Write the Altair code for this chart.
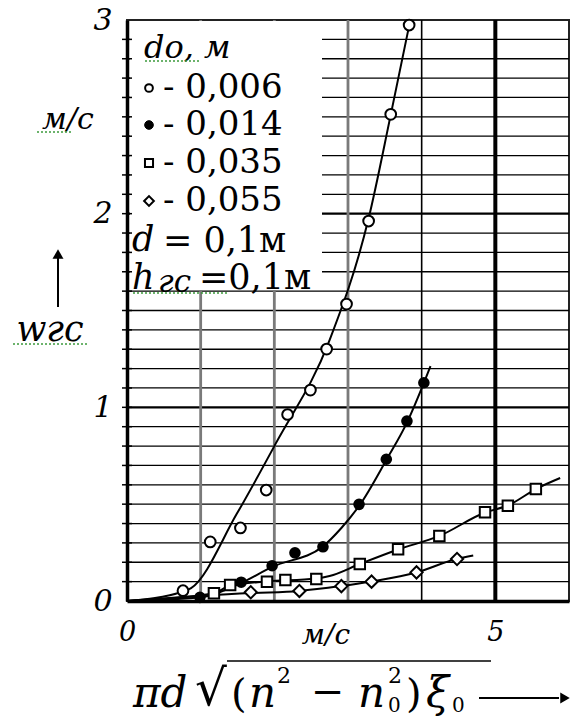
import altair as alt
import pandas as pd

# ---------------- data ----------------
d0_labels = ["0,006", "0,014", "0,035", "0,055"]

# measured points
pts_x_006 = [0.76, 1.13, 1.54, 1.89, 2.18, 2.49, 2.71, 2.98, 3.28, 3.58, 3.83]
pts_y_006 = [0.053, 0.305, 0.377, 0.573, 0.963, 1.089, 1.301, 1.533, 1.962, 2.513, 2.974]

pts_x_014 = [0.99, 1.55, 1.97, 2.28, 2.66, 3.15, 3.52, 3.80, 4.03]
pts_y_014 = [0.019, 0.097, 0.182, 0.249, 0.280, 0.499, 0.732, 0.929, 1.127]

pts_x_035 = [1.18, 1.40, 1.90, 2.15, 2.57, 3.16, 3.68, 4.24, 4.86, 5.17, 5.55]
pts_y_035 = [0.040, 0.083, 0.100, 0.108, 0.114, 0.191, 0.267, 0.336, 0.458, 0.492, 0.578]

pts_x_055 = [1.68, 2.34, 2.91, 3.32, 3.93, 4.48]
pts_y_055 = [0.045, 0.052, 0.077, 0.100, 0.148, 0.217]

# fitted curves
crv_x_006 = [0, 0.76, 0.87, 1.49, 2.02, 2.75, 3.28, 3.58, 3.84]
crv_y_006 = [0, 0.049, 0.067, 0.450, 0.814, 1.347, 1.976, 2.510, 2.989]

crv_x_014 = [0, 0.98, 1.55, 1.97, 2.66, 2.91, 3.16, 3.52, 3.81, 4.03, 4.12]
crv_y_014 = [0, 0.018, 0.093, 0.176, 0.282, 0.377, 0.496, 0.728, 0.929, 1.126, 1.213]

crv_x_035 = [0, 1.18, 1.40, 1.90, 2.56, 2.75, 3.16, 3.68, 4.24, 4.86, 5.17, 5.55, 5.88]
crv_y_035 = [0, 0.040, 0.080, 0.101, 0.116, 0.129, 0.191, 0.266, 0.336, 0.457, 0.493, 0.578, 0.635]

crv_x_055 = [0, 1.68, 2.34, 2.90, 3.32, 3.93, 4.47, 4.70]
crv_y_055 = [0, 0.041, 0.052, 0.077, 0.101, 0.147, 0.217, 0.235]

# axis / grid values
x_label_values = [0, 5]
y_label_values = [0, 1, 2, 3]
h_grid_minor = [0.1, 0.2, 0.3, 0.4, 0.5, 0.6, 0.7, 0.8, 0.9,
                1.1, 1.2, 1.3, 1.4, 1.5, 1.6, 1.7, 1.8, 1.9,
                2.1, 2.2, 2.3, 2.4, 2.5, 2.6, 2.7, 2.8, 2.9]
h_grid_major = [1, 2]
y_ticks = h_grid_minor + h_grid_major
v_grid_gray = [1, 2, 3]
v_grid_thin = [4]
v_grid_thick = [5]

# ---------------- styling ----------------
SERIF = "DejaVu Serif"
INK = "#000000"
W, H = 442, 581

xs = alt.Scale(domain=[0, 6], nice=False, zero=False)
ys = alt.Scale(domain=[0, 3], nice=False, zero=False)

x_axis = alt.Axis(values=x_label_values, title=None, ticks=False, grid=False,
                  domainColor=INK, domainWidth=3.5, labelFont=SERIF,
                  labelFontStyle="italic", labelFontSize=27, labelColor=INK,
                  labelPadding=18, labelFlush=False, zindex=1)
y_axis = alt.Axis(values=y_label_values, title=None, ticks=False, grid=False,
                  domainColor=INK, domainWidth=3.5, labelFont=SERIF,
                  labelFontStyle="italic", labelFontSize=30, labelColor=INK,
                  labelPadding=15, labelFlush=False, zindex=1)


def X(f="x"):
    return alt.X(f"{f}:Q", scale=xs, axis=x_axis, title=None)


def Y(f="y"):
    return alt.Y(f"{f}:Q", scale=ys, axis=y_axis, title=None)


one = pd.DataFrame({"k": [0]})


def text(s, x, y, size, italic=False, align="left", baseline="middle"):
    return alt.Chart(one).mark_text(
        text=s, font=SERIF, fontSize=size,
        fontStyle="italic" if italic else "normal",
        align=align, baseline=baseline, color=INK,
    ).encode(x=alt.value(x), y=alt.value(y))


def hrule(x1, x2, y, width=1.5, color=INK, dash=None):
    kw = dict(color=color, strokeWidth=width)
    if dash:
        kw["strokeDash"] = dash
    return alt.Chart(one).mark_rule(**kw).encode(
        x=alt.value(x1), x2=alt.value(x2), y=alt.value(y))


def vrule(x, y1, y2, width=1.5):
    return alt.Chart(one).mark_rule(color=INK, strokeWidth=width).encode(
        x=alt.value(x), y=alt.value(y1), y2=alt.value(y2))


# ---------------- grid ----------------
g_hmin = alt.Chart(pd.DataFrame({"y": h_grid_minor})).mark_rule(
    color=INK, strokeWidth=1.3).encode(y=Y())
g_hmaj = alt.Chart(pd.DataFrame({"y": h_grid_major})).mark_rule(
    color=INK, strokeWidth=2.4).encode(y=Y())
g_vgray = alt.Chart(pd.DataFrame({"x": v_grid_gray})).mark_rule(
    color="#7a7a7a", strokeWidth=2.8).encode(x=X())
g_vthin = alt.Chart(pd.DataFrame({"x": v_grid_thin})).mark_rule(
    color=INK, strokeWidth=1.6).encode(x=X())
g_vthick = alt.Chart(pd.DataFrame({"x": v_grid_thick})).mark_rule(
    color=INK, strokeWidth=4).encode(x=X())

# white legend box hiding the grid
box = alt.Chart(one).mark_rect(color="white", opacity=1).encode(
    x=alt.value(3), x2=alt.value(195), y=alt.value(1), y2=alt.value(270))

# small ticks crossing the left axis
ticks = alt.Chart(pd.DataFrame({"y": y_ticks})).mark_rule(
    color=INK, strokeWidth=1.5).encode(y=Y(), x=alt.value(-5), x2=alt.value(5))

# ---------------- curves ----------------
curve_rows = []
for lab, cx, cy in zip(d0_labels,
                       [crv_x_006, crv_x_014, crv_x_035, crv_x_055],
                       [crv_y_006, crv_y_014, crv_y_035, crv_y_055]):
    for a, b in zip(cx, cy):
        curve_rows.append({"s": lab, "x": a, "y": b})
curves = alt.Chart(pd.DataFrame(curve_rows)).mark_line(
    color=INK, strokeWidth=2, interpolate="monotone").encode(
    x=X(), y=Y(), detail="s:N")

# ---------------- markers ----------------
def pts(xv, yv):
    return pd.DataFrame({"x": xv, "y": yv})


m_006 = alt.Chart(pts(pts_x_006, pts_y_006)).mark_point(
    shape="circle", fill="white", stroke=INK, strokeWidth=2, size=115,
    opacity=1, fillOpacity=1).encode(x=X(), y=Y())
m_014 = alt.Chart(pts(pts_x_014, pts_y_014)).mark_point(
    shape="circle", filled=True, color=INK, size=135, opacity=1).encode(x=X(), y=Y())
m_035 = alt.Chart(pts(pts_x_035, pts_y_035)).mark_point(
    shape="square", fill="white", stroke=INK, strokeWidth=2, size=110,
    opacity=1, fillOpacity=1).encode(x=X(), y=Y())
m_055 = alt.Chart(pts(pts_x_055, pts_y_055)).mark_point(
    shape="diamond", fill="white", stroke=INK, strokeWidth=2, size=150,
    opacity=1, fillOpacity=1).encode(x=X(), y=Y())

# ---------------- legend (inside the plot) ----------------
legend_layers = [text("dо, м", 17, 28, 32, italic=True)]
row_y = [68, 105, 143, 181]
legend_marks = [
    dict(shape="circle", fill="white", stroke=INK, strokeWidth=2, size=60),
    dict(shape="circle", fill=INK, stroke=INK, strokeWidth=1, size=75),
    dict(shape="square", fill="white", stroke=INK, strokeWidth=2, size=65),
    dict(shape="diamond", fill="white", stroke=INK, strokeWidth=2, size=95),
]
for lab, ry, mk in zip(d0_labels, row_y, legend_marks):
    legend_layers.append(
        alt.Chart(one).mark_point(opacity=1, fillOpacity=1, **mk).encode(
            x=alt.value(22), y=alt.value(ry)))
    legend_layers.append(text("- " + lab, 36, ry, 34))

legend_layers += [
    text("d", 5, 220, 35, italic=True),
    text("= 0,1м", 36, 221, 35),
    text("h", 5, 258, 35, italic=True),
    text("гс", 31, 263, 31, italic=True),
    text("=0,1м", 72, 258, 35),
    hrule(18, 72, 41, 1.5, "#3c9a3c", [2, 2]),
    hrule(6, 102, 273, 1.5, "#3c9a3c", [2, 2]),
]

# ---------------- axis titles ----------------
BASE = 687
extra = [
    text("м/с", -59, 100, 30, italic=True, align="center"),
    hrule(-90, -56, 112, 1.5, "#3c9a3c", [2, 2]),
    text("wгс", -77, 310, 35, italic=True, align="center"),
    hrule(-114, -40, 324, 1.5, "#3c9a3c", [2, 2]),
    vrule(-69, 287, 236, 2),
    alt.Chart(one).mark_point(shape="triangle-up", filled=True, color=INK,
                              size=120, opacity=1).encode(
        x=alt.value(-69), y=alt.value(234)),
    text("м/с", 199, 616, 28, italic=True, align="center"),
    # bottom formula  πd √((n² − n₀²)ξ₀) →
    text("πd", 6, BASE, 42, italic=True, baseline="alphabetic"),
    text("√", 68, 685, 50, baseline="alphabetic"),
    hrule(100, 364, 641, 1.5),
    text("(", 104, BASE, 40, baseline="alphabetic"),
    text("n", 122, BASE, 42, italic=True, baseline="alphabetic"),
    text("2", 150, 663, 22, baseline="alphabetic"),
    text("−", 184, BASE - 2, 40, baseline="alphabetic"),
    text("n", 231, BASE, 42, italic=True, baseline="alphabetic"),
    text("2", 261, 663, 22, baseline="alphabetic"),
    text("0", 261, 692, 20, baseline="alphabetic"),
    text(")", 279, BASE, 40, baseline="alphabetic"),
    text("ξ", 299, BASE, 42, italic=True, baseline="alphabetic"),
    text("0", 325, 692, 20, baseline="alphabetic"),
    hrule(352, 432, 678, 2),
    alt.Chart(one).mark_point(shape="triangle-right", filled=True, color=INK,
                              size=120, opacity=1).encode(
        x=alt.value(438), y=alt.value(678)),
]

chart = alt.layer(
    g_hmin, g_hmaj, g_vgray, g_vthin, g_vthick, box, ticks,
    curves, m_006, m_014, m_035, m_055,
    *legend_layers, *extra,
).properties(
    width=W, height=H,
    autosize=alt.AutoSizeParams(type="none"),
    padding={"left": 127, "top": 20, "right": 4, "bottom": 119},
    background="white",
).configure_view(stroke="#222222", strokeWidth=2)

chart.save("out.html", embed_options={"renderer": "svg", "actions": False})
